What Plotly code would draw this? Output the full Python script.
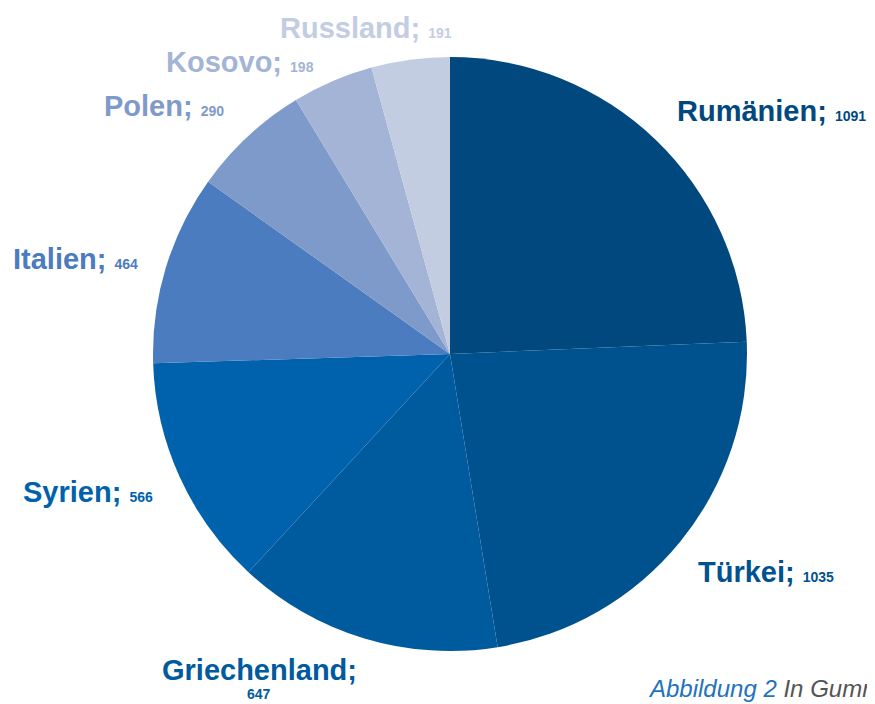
import plotly.graph_objects as go

# the page body adds an 8px margin, so the figure is 8px smaller and all
# reference pixel positions are shifted by OFF
W, H = 867, 696
OFF = 8

countries = ['Rumänien', 'Türkei', 'Griechenland', 'Syrien', 'Italien', 'Polen', 'Kosovo', 'Russland']
values = [1091, 1035, 647, 566, 464, 290, 198, 191]
colors = ['#00487D', '#00528F', '#005A9E', '#0062AC', '#4A7CBF', '#7E9ACB', '#A3B4D6', '#C3CDE2']


def px_x(x):
    return (x - OFF) / W


def px_y(y):
    return 1 - (y - OFF) / H


# pie centre (450, 354), radius 297 px in the reference
cx, cy, r = 450, 354, 297

fig = go.Figure(go.Pie(
    labels=countries,
    values=values,
    marker=dict(colors=colors, line=dict(width=0)),
    sort=False,
    direction='clockwise',
    rotation=0,
    textinfo='none',
    hoverinfo='label+value',
    domain=dict(x=[px_x(cx - r), px_x(cx + r)], y=[px_y(cy + r), px_y(cy - r)]),
    showlegend=False,
))

FONT = 'Liberation Sans, Arial'
NAME_SIZE = 29
NUM_SIZE = 14

# label spots (left edge, vertical middle) in reference pixels
label_pos = {
    'Rumänien': (675, 111),
    'Türkei': (696, 572),
    'Syrien': (21, 492),
    'Italien': (11, 259),
    'Polen': (102, 106),
    'Kosovo': (164, 62),
    'Russland': (278, 28),
}

annotations = []
for name, val, col in zip(countries, values, colors):
    if name in label_pos:
        x, y = label_pos[name]
        annotations.append(dict(
            x=px_x(x), y=px_y(y), xref='paper', yref='paper',
            xanchor='left', yanchor='middle', showarrow=False,
            text=f"<b>{name};</b> <b><span style='font-size:{NUM_SIZE}px'>{val}</span></b>",
            font=dict(family=FONT, size=NAME_SIZE, color=col),
        ))
    elif name == 'Griechenland':
        annotations.append(dict(
            x=px_x(259), y=px_y(670), xref='paper', yref='paper',
            xanchor='center', yanchor='middle', showarrow=False,
            text=f"<b>{name};</b>",
            font=dict(family=FONT, size=NAME_SIZE, color=col),
        ))
        annotations.append(dict(
            x=px_x(259), y=px_y(694), xref='paper', yref='paper',
            xanchor='center', yanchor='middle', showarrow=False,
            text=f"<b>{val}</b>",
            font=dict(family=FONT, size=NUM_SIZE, color=col),
        ))

# caption, only the visible part of the source
annotations.append(dict(
    x=px_x(646), y=px_y(688), xref='paper', yref='paper',
    xanchor='left', yanchor='middle', showarrow=False,
    text="<i><span style='color:#2272BE'>Abbildung 2</span> <span style='color:#555555'>In Gumr</span></i>",
    font=dict(family=FONT, size=24),
))

fig.update_layout(
    width=W, height=H,
    margin=dict(l=0, r=0, t=0, b=0),
    paper_bgcolor='white',
    annotations=annotations,
)

fig.write_html("out.html")
